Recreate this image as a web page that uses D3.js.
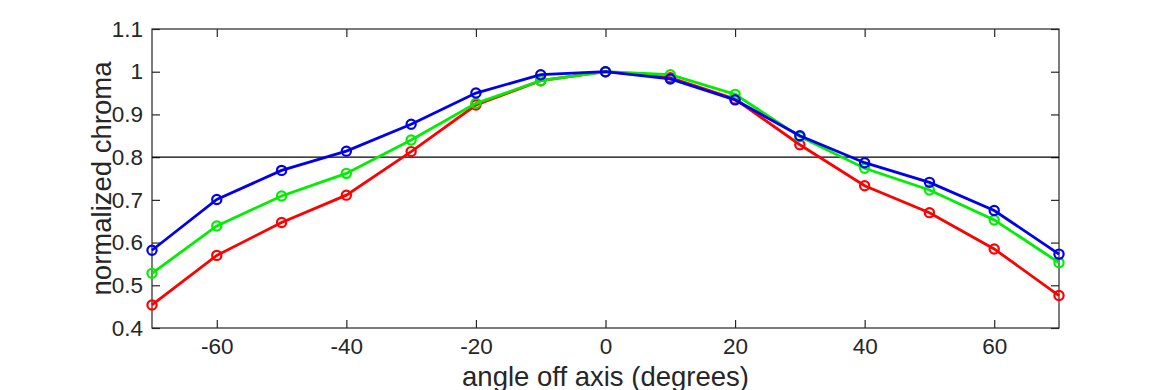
<!DOCTYPE html>
<html>
<head>
  <meta charset="utf-8">
  <script src="https://cdnjs.cloudflare.com/ajax/libs/d3/7.8.5/d3.min.js"></script>
  <style>
    body { margin: 0; background: #fff; }
    svg text { font-family: "Liberation Sans", Arial, sans-serif; fill: #262626; }
  </style>
</head>
<body>
  <svg id="chart" width="1170" height="390"></svg>
  <script>
    // angles and chroma values
    var angles = [-70, -60, -50, -40, -30, -20, -10, 0, 10, 20, 30, 40, 50, 60, 70];
    var red   = [0.454, 0.570, 0.647, 0.711, 0.813, 0.922, 0.979, 1.0, 0.986, 0.936, 0.829, 0.733, 0.670, 0.585, 0.476];
    var green = [0.528, 0.639, 0.709, 0.762, 0.840, 0.926, 0.979, 1.0, 0.993, 0.947, 0.848, 0.774, 0.723, 0.653, 0.553];
    var blue  = [0.582, 0.701, 0.769, 0.814, 0.877, 0.950, 0.993, 1.0, 0.983, 0.934, 0.850, 0.787, 0.741, 0.675, 0.573];
    var xTicks = [-60, -40, -20, 0, 20, 40, 60];
    var yTicks = [0.4, 0.5, 0.6, 0.7, 0.8, 0.9, 1, 1.1];
    var threshold = 0.8;

    var plotLeft = 152, plotRight = 1059, plotTop = 29, plotBottom = 328;
    var svg = d3.select("#chart");

    var x = d3.scaleLinear().domain([-70, 70]).range([plotLeft, plotRight]);
    var y = d3.scaleLinear().domain([0.4, 1.1]).range([plotBottom, plotTop]);

    var tickLen = 8;

    // frame
    svg.append("rect")
      .attr("x", plotLeft).attr("y", plotTop)
      .attr("width", plotRight - plotLeft).attr("height", plotBottom - plotTop)
      .attr("fill", "none").attr("stroke", "#262626").attr("stroke-width", 1.2);

    // axes (ticks point inward, mirrored on opposite side)
    var xAxis = svg.append("g").attr("transform", "translate(0," + plotBottom + ")")
      .call(d3.axisBottom(x).tickValues(xTicks).tickSize(-tickLen).tickPadding(10)
        .tickFormat(function(d) { return String(d); }));
    svg.append("g").attr("transform", "translate(0," + plotTop + ")")
      .call(d3.axisTop(x).tickValues(xTicks).tickSize(-tickLen).tickFormat(""));
    var yAxis = svg.append("g").attr("transform", "translate(" + plotLeft + ",0)")
      .call(d3.axisLeft(y).tickValues(yTicks).tickSize(-tickLen).tickPadding(9)
        .tickFormat(function(d) { return String(+d.toFixed(1)); }));
    svg.append("g").attr("transform", "translate(" + plotRight + ",0)")
      .call(d3.axisRight(y).tickValues(yTicks).tickSize(-tickLen).tickFormat(""));

    svg.selectAll(".domain").remove();
    svg.selectAll(".tick line").attr("stroke", "#262626").attr("stroke-width", 1.2);
    svg.selectAll(".tick text").attr("font-size", 22.5).style("fill", "#262626");

    // threshold line
    svg.append("line")
      .attr("x1", plotLeft).attr("x2", plotRight)
      .attr("y1", y(threshold)).attr("y2", y(threshold))
      .attr("stroke", "#000").attr("stroke-width", 1.2);

    var series = [
      { name: "red", color: "#ff0000", values: red },
      { name: "green", color: "#00ee00", values: green },
      { name: "blue", color: "#0000ee", values: blue }
    ];

    var line = d3.line()
      .x(function(d, i) { return x(angles[i]); })
      .y(function(d) { return y(d); });

    series.forEach(function(s) {
      var g = svg.append("g").attr("class", "series " + s.name);
      g.append("path")
        .attr("d", line(s.values))
        .attr("fill", "none")
        .attr("stroke", s.color)
        .attr("stroke-width", 2.8);
      g.selectAll("circle")
        .data(s.values)
        .enter()
        .append("circle")
        .attr("cx", function(d, i) { return x(angles[i]); })
        .attr("cy", function(d) { return y(d); })
        .attr("r", 4.6)
        .attr("fill", "none")
        .attr("stroke", s.color)
        .attr("stroke-width", 2.2);
    });

    // axis titles
    svg.append("text")
      .attr("x", (plotLeft + plotRight) / 2)
      .attr("y", 386)
      .attr("text-anchor", "middle")
      .attr("font-size", 27.5)
      .text("angle off axis (degrees)");

    svg.append("text")
      .attr("transform", "translate(111," + ((plotTop + plotBottom) / 2) + ") rotate(-90)")
      .attr("text-anchor", "middle")
      .attr("font-size", 27.5)
      .text("normalized chroma");
  </script>
</body>
</html>
